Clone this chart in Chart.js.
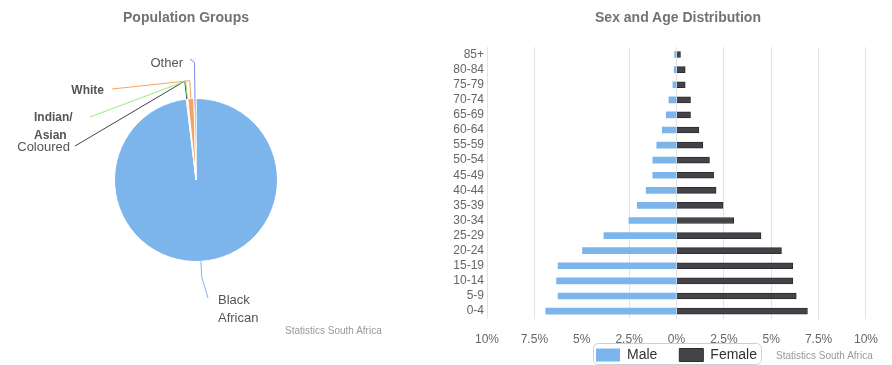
<!DOCTYPE html>
<html>
<head>
<meta charset="utf-8">
<script src="https://cdn.jsdelivr.net/npm/chart.js@4.4.1/dist/chart.umd.min.js"></script>
<style>
    body { margin: 0; width: 892px; height: 365px; position: relative; background: #fff; overflow: hidden; font-family: "Liberation Sans", Arial, sans-serif; }
    canvas { position: absolute; top: 0; }
    #PieChart { left: 0; }
    #PyramidChart { left: 430px; }
    .title { position: absolute; top: 9px; font-weight: bold; font-size: 14px; color: #727272; white-space: nowrap; transform: translateX(-50%); }
    .credit { position: absolute; font-size: 10px; color: #999; white-space: nowrap; }
</style>
</head>
<body>
<canvas id="PieChart" width="430" height="365"></canvas>
<canvas id="PyramidChart" width="462" height="365"></canvas>
<div class="title" style="left:186px">Population Groups</div>
<div class="title" style="left:678px">Sex and Age Distribution</div>
<div class="credit" style="left:285px; top:325px">Statistics South Africa</div>
<div class="credit" style="left:776px; top:350px">Statistics South Africa</div>

<script>
Chart.defaults.font.family = '"Liberation Sans", Arial, sans-serif';

// Population groups (% of people)
const groupLabels = ['Black African', 'Coloured', 'Indian/ Asian', 'White', 'Other'];
const groupShares = [98.1, 0.2, 0.1, 1.2, 0.4];
const groupColors = ['#7cb5ec', '#434348', '#90ed7d', '#f7a35c', '#8085e9'];

// Sex and age (% of people), youngest first
const ageGroups = ['0-4', '5-9', '10-14', '15-19', '20-24', '25-29', '30-34', '35-39', '40-44',
    '45-49', '50-54', '55-59', '60-64', '65-69', '70-74', '75-79', '80-84', '85+'];
const malePct = [6.9, 6.25, 6.33, 6.25, 4.96, 3.83, 2.51, 2.07, 1.6, 1.25, 1.25, 1.04, 0.75, 0.54, 0.4, 0.19, 0.12, 0.1];
const femalePct = [6.91, 6.32, 6.14, 6.14, 5.54, 4.46, 3.02, 2.46, 2.09, 1.96, 1.74, 1.39, 1.18, 0.74, 0.74, 0.46, 0.46, 0.21];
const xTickStep = 2.5;

// where each pie label sits, relative to the pie centre
const pieLabelPos = [
    { dx: 22, dy: 120, align: 'left', ex: 12, ey: 118, bend: 16, wrap: true, font: '13px "Liberation Sans", Arial' },
    { dx: -126, dy: -33, align: 'right', ex: -121, ey: -34, bend: 18, font: '13px "Liberation Sans", Arial' },
    { dx: -162, dy: -62, align: 'left', ex: -106, ey: -63, bend: 18, wrap: true, font: 'bold 12px "Liberation Sans", Arial' },
    { dx: -92, dy: -89, align: 'right', ex: -84, ey: -91, bend: 18, font: 'bold 12px "Liberation Sans", Arial' },
    { dx: -13, dy: -117, align: 'right', ex: -6, ey: -121, bend: 36, font: '13px "Liberation Sans", Arial' }
];

//pie labels with connectors
const pieLabels = {
    id: 'pieLabels',
    afterDatasetsDraw(chart) {
        const ctx = chart.ctx;
        const arcs = chart.getDatasetMeta(0).data;
        ctx.save();
        arcs.forEach((arc, i) => {
            const pos = pieLabelPos[i];
            const mid = (arc.startAngle + arc.endAngle) / 2;
            const r = arc.outerRadius;
            const x0 = arc.x + Math.cos(mid) * r, y0 = arc.y + Math.sin(mid) * r;
            const x1 = arc.x + Math.cos(mid) * (r + pos.bend), y1 = arc.y + Math.sin(mid) * (r + pos.bend);
            ctx.strokeStyle = groupColors[i];
            ctx.lineWidth = 1;
            ctx.beginPath();
            ctx.moveTo(arc.x + pos.ex, arc.y + pos.ey);
            ctx.lineTo(x1, y1);
            ctx.lineTo(x0, y0);
            ctx.stroke();

            const lines = pos.wrap ? groupLabels[i].split(' ') : [groupLabels[i]];
            ctx.fillStyle = '#555';
            ctx.font = pos.font;
            ctx.textAlign = pos.align;
            ctx.textBaseline = 'middle';
            lines.forEach((line, k) => ctx.fillText(line, arc.x + pos.dx, arc.y + pos.dy + k * 18));
        });
        ctx.restore();
    }
};

//legend: moved just under the tick labels, with a frame round it
const LEGEND_MIDDLE = 355;
const legendFrame = {
    id: 'legendFrame',
    afterLayout(chart) {
        const lg = chart.legend;
        const pad = lg.options.labels.padding;
        lg.top = LEGEND_MIDDLE - pad - 7;
        lg.height = pad + 26;
        lg.bottom = lg.top + lg.height;
    },
    afterDraw(chart) {
        const boxes = chart.legend.legendHitBoxes;
        if (!boxes || !boxes.length) return;
        const last = boxes[boxes.length - 1];
        const left = boxes[0].left - 3, right = last.left + last.width + 4;
        const top = boxes[0].top - 5, bottom = boxes[0].top + boxes[0].height + 2;
        const ctx = chart.ctx;
        ctx.save();
        ctx.strokeStyle = '#cfcfcf';
        ctx.lineWidth = 1;
        ctx.beginPath();
        ctx.roundRect(Math.round(left) + 0.5, Math.round(top) + 0.5, Math.round(right - left), Math.round(bottom - top), 5);
        ctx.stroke();
        ctx.restore();
    }
};

//pie chart
new Chart(document.getElementById('PieChart'), {
    type: 'pie',
    data: {
        labels: groupLabels,
        datasets: [{
            data: groupShares,
            backgroundColor: groupColors,
            borderColor: '#fff',
            borderWidth: 1
        }]
    },
    options: {
        responsive: false,
        animation: false,
        layout: { padding: { left: 114, right: 152, top: 98, bottom: 103 } },
        plugins: { legend: { display: false }, tooltip: { enabled: false } }
    },
    plugins: [pieLabels]
});

//population pyramid
new Chart(document.getElementById('PyramidChart'), {
    type: 'bar',
    data: {
        labels: ageGroups,
        datasets: [{
            label: 'Male',
            data: malePct.map(v => -v),
            backgroundColor: '#7cb5ec',
            barThickness: 6
        }, {
            label: 'Female',
            data: femalePct,
            backgroundColor: '#434348',
            borderColor: '#2b2b30',
            borderWidth: 1,
            barThickness: 6
        }]
    },
    options: {
        indexAxis: 'y',
        responsive: false,
        animation: false,
        layout: { padding: { top: 47, right: 24, left: 0, bottom: 0 } },
        scales: {
            x: {
                stacked: true,
                min: -10,
                max: 10,
                ticks: {
                    stepSize: xTickStep,
                    callback: v => Math.abs(v) + '%',
                    color: '#666',
                    font: { size: 12 },
                    padding: 14,
                    maxRotation: 0
                },
                grid: {
                    drawTicks: false,
                    color: c => (c.tick && c.tick.value === -5) ? 'rgba(0,0,0,0)' : '#e3e3e3'
                },
                border: { display: false }
            },
            y: {
                stacked: true,
                reverse: true,
                ticks: { color: '#666', font: { size: 12 }, padding: 3, autoSkip: false },
                grid: { display: false, drawTicks: false },
                border: { display: false },
                afterFit: s => { s.width = 57; }
            }
        },
        plugins: {
            legend: {
                position: 'bottom',
                fullSize: false,
                maxHeight: 4,
                labels: { boxWidth: 24, boxHeight: 13, color: '#333', font: { size: 14 }, padding: 22 }
            },
            tooltip: { enabled: false }
        }
    },
    plugins: [legendFrame]
});
</script>
</body>
</html>
